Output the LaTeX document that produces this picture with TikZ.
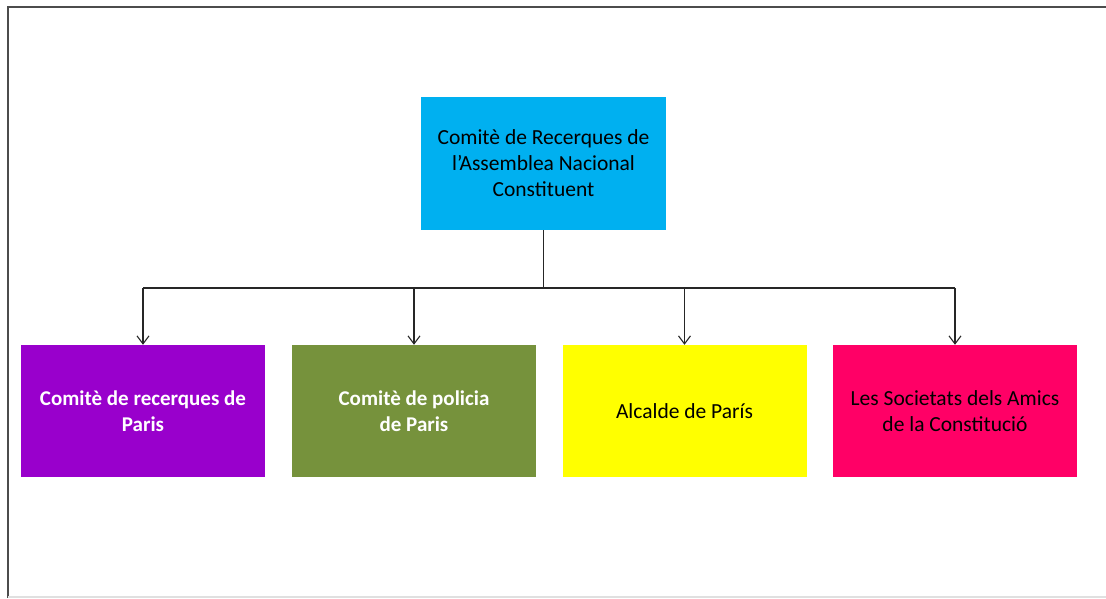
\documentclass[tikz,border=0pt]{standalone}
\usepackage{fontspec}
\setmainfont{Carlito}
\usetikzlibrary{arrows.meta}
\definecolor{cblue}{RGB}{0,176,240}
\definecolor{cpurple}{RGB}{153,0,204}
\definecolor{cgreen}{RGB}{118,146,60}
\definecolor{cyellow}{RGB}{255,255,0}
\definecolor{cpink}{RGB}{255,0,102}
\begin{document}
\begin{tikzpicture}[x=1pt,y=-1pt,
  box/.style={draw=none,minimum width=244pt,minimum height=132pt,align=center,inner sep=0pt,font=\fontsize{21.5}{26}\selectfont},
  boldbox/.style={box,text=white,font=\fontsize{21}{26}\selectfont\bfseries},
  conn/.style={line width=1.1pt,black!85},
  arr/.style={conn,-{Straight Barb[length=8pt,width=12pt,line width=1.1pt]}}]
\useasboundingbox (0,0) rectangle (1106,598);
\fill[white] (0,0) rectangle (1106,598);
\draw[line width=2pt,black!70] (8,598) -- (8,7) -- (1106,7);
\draw[line width=1.5pt,black!12] (8,597) -- (1106,597);
\node[box,fill=cblue,minimum width=245pt,minimum height=133pt] (top) at (543.5,163.5) {Comitè de Recerques de\\l'Assemblea Nacional\\Constituent};
\node[boldbox,fill=cpurple] (a) at (143,411) {Comitè de recerques de\\Paris};
\node[boldbox,fill=cgreen] (b) at (414,411) {Comitè de policia\\de Paris};
\node[box,fill=cyellow] (c) at (684.5,411) {Alcalde de París};
\node[box,fill=cpink] (d) at (955,411) {Les Societats dels Amics\\de la Constitució};
\coordinate (j) at (543.5,288);
\draw[conn] (top.south) -- (j);
\draw[conn] (a.north |- j) -- (d.north |- j);
\draw[arr] (a.north |- j) -- (a.north);
\draw[arr] (b.north |- j) -- (b.north);
\draw[arr] (c.north |- j) -- (c.north);
\draw[arr] (d.north |- j) -- (d.north);
\end{tikzpicture}
\end{document}
